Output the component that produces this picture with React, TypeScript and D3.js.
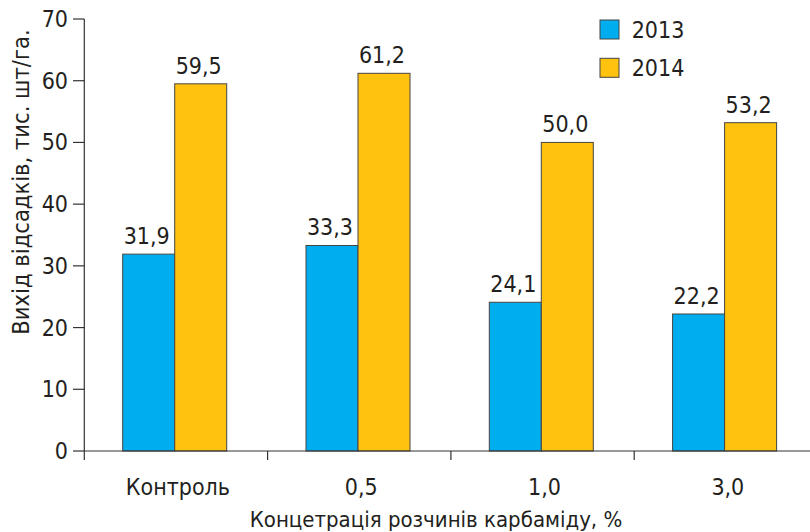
import React from "react";
import * as d3 from "d3";

const categories = ["Контроль", "0,5", "1,0", "3,0"];
const series = ["2013", "2014"];
const values2013 = [31.9, 33.3, 24.1, 22.2];
const values2014 = [59.5, 61.2, 50.0, 53.2];
const valueLabels2013 = ["31,9", "33,3", "24,1", "22,2"];
const valueLabels2014 = ["59,5", "61,2", "50,0", "53,2"];
const yTicks = [0, 10, 20, 30, 40, 50, 60, 70];
const colors = ["#00AEEF", "#FFC20E"];
const xTitle = "Концетрація розчинів карбаміду, %";
const yTitle = "Вихід відсадків, тис. шт/га.";

const W = 810;
const H = 532;
const FONT = "'DejaVu Sans Condensed', 'DejaVu Sans', sans-serif";
const FS = 23;
const TXT = "#231F20";
const AX = "#333";

export default function App() {
  const x0 = d3
    .scaleBand<string>()
    .domain(categories)
    .range([84.3, 84.3 + 4 * 183.3])
    .padding(0);
  const x1 = d3.scaleBand<string>().domain(series).range([38.4, 142.4]).padding(0);
  const y = d3.scaleLinear().domain([0, 70]).range([451, 19]);
  const data = [values2013, values2014];
  const labels = [valueLabels2013, valueLabels2014];
  const bounds = categories.map((c) => x0(c) as number);

  return (
    <svg
      width={W}
      height={H}
      style={{ position: "absolute", left: 0, top: 0, background: "#fff", fontStretch: "condensed" }}
      fontFamily={FONT}
    >
      {categories.map((c, i) => (
        <g key={c} transform={`translate(${x0(c)},0)`}>
          {series.map((s, j) => {
            const v = data[j][i];
            const bx = x1(s) as number;
            const bw = x1.bandwidth();
            return (
              <g key={s}>
                <rect
                  x={bx}
                  y={y(v)}
                  width={bw}
                  height={y(0) - y(v)}
                  fill={colors[j]}
                  stroke="#444"
                  strokeWidth={1}
                />
                <text
                  x={bx + bw / 2 - 2}
                  y={y(v) - 10}
                  textAnchor="middle"
                  fontSize={FS}
                  fill={TXT}
                >
                  {labels[j][i]}
                </text>
              </g>
            );
          })}
        </g>
      ))}
      <line x1={84.3} x2={84.3} y1={y(70)} y2={460} stroke={AX} strokeWidth={1.2} />
      {yTicks.map((t) => (
        <g key={t}>
          <line x1={73} x2={84.3} y1={y(t)} y2={y(t)} stroke={AX} strokeWidth={1.2} />
          <text
            x={68}
            y={y(t)}
            textAnchor="end"
            dominantBaseline="central"
            fontSize={FS}
            fill={TXT}
          >
            {t}
          </text>
        </g>
      ))}
      <line x1={84.3} x2={W} y1={y(0)} y2={y(0)} stroke={AX} strokeWidth={1.2} />
      {bounds.slice(1).map((b, i) => (
        <line key={i} x1={b} x2={b} y1={y(0)} y2={460} stroke={AX} strokeWidth={1.2} />
      ))}
      {categories.map((c) => (
        <text
          key={c}
          x={(x0(c) as number) + x0.bandwidth() / 2 + 2}
          y={495}
          textAnchor="middle"
          fontSize={FS}
          fill={TXT}
        >
          {c}
        </text>
      ))}
      <text x={436} y={527} textAnchor="middle" fontSize={22} fill={TXT}>
        {xTitle}
      </text>
      <text
        transform={`translate(29,182) rotate(-90)`}
        textAnchor="middle"
        fontSize={23.5}
        fill={TXT}
      >
        {yTitle}
      </text>
      {series.map((s, j) => (
        <g key={s} transform={`translate(600,${20 + j * 38.3})`}>
          <rect x={0} y={0} width={19} height={19} fill={colors[j]} stroke="#444" strokeWidth={1} />
          <text x={31.7} y={9.5} dominantBaseline="central" fontSize={FS} fill={TXT}>
            {s}
          </text>
        </g>
      ))}
    </svg>
  );
}
